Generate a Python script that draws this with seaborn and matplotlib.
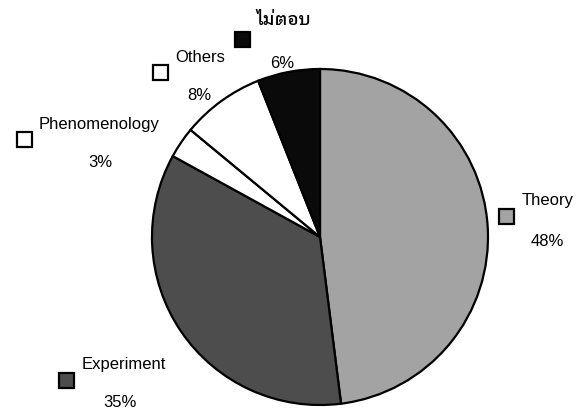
import matplotlib
matplotlib.use("Agg")
import matplotlib.pyplot as plt
import seaborn as sns
from matplotlib.patches import Rectangle

# data
labels = ["Theory", "Experiment", "Phenomenology", "Others", "ไม่ตอบ"]
values = [48, 35, 3, 8, 6]
colors = ["#a3a3a3", "#4d4d4d", "#ffffff", "#ffffff", "#0a0a0a"]

# label layout (pixel coords, y from top): swatch, name, percent
swatch_pos = [(506, 217), (66, 380), (24, 140), (160, 73), (242, 40)]
name_pos = [(522, 201), (82, 364), (39, 125), (175, 57), (256, 20)]
pct_pos = [(547, 241), (120, 402), (100, 163), (199, 95), (282, 63)]

W, H = 578, 411

sns.set_style("white")
plt.rcParams["font.family"] = ["Liberation Sans", "DejaVu Sans"]
plt.rcParams["text.color"] = "black"
thai_fams = ["IBM Plex Sans Thai Looped", "Liberation Sans", "DejaVu Sans"]

fig = plt.figure(figsize=(W / 100, H / 100), dpi=100)
ax = fig.add_axes([0, 0, 1, 1])

ax.pie(values, colors=colors, startangle=90, counterclock=False,
       center=(320, H - 237), radius=168,
       wedgeprops=dict(edgecolor="black", linewidth=1.6))

# pie() sets its own limits, so put the pixel frame back afterwards
ax.set_xlim(0, W)
ax.set_ylim(0, H)
ax.set_aspect("equal")
ax.axis("off")

for lab, v, c, sp, npos, pp in zip(labels, values, colors, swatch_pos, name_pos, pct_pos):
    s = 15
    ax.add_patch(Rectangle((sp[0] - s / 2, H - sp[1] - s / 2), s, s,
                           facecolor=c, edgecolor="black", linewidth=1.6))
    if lab.isascii():
        ax.text(npos[0], H - npos[1], lab, fontsize=12, ha="left", va="center")
    else:
        ax.text(npos[0], H - npos[1], lab, fontsize=12.5, ha="left", va="center",
                family=thai_fams, fontweight="medium")
    ax.text(pp[0], H - pp[1], f"{v}%", fontsize=12, ha="center", va="center")

fig.savefig("out.png", dpi=100, facecolor="white")
